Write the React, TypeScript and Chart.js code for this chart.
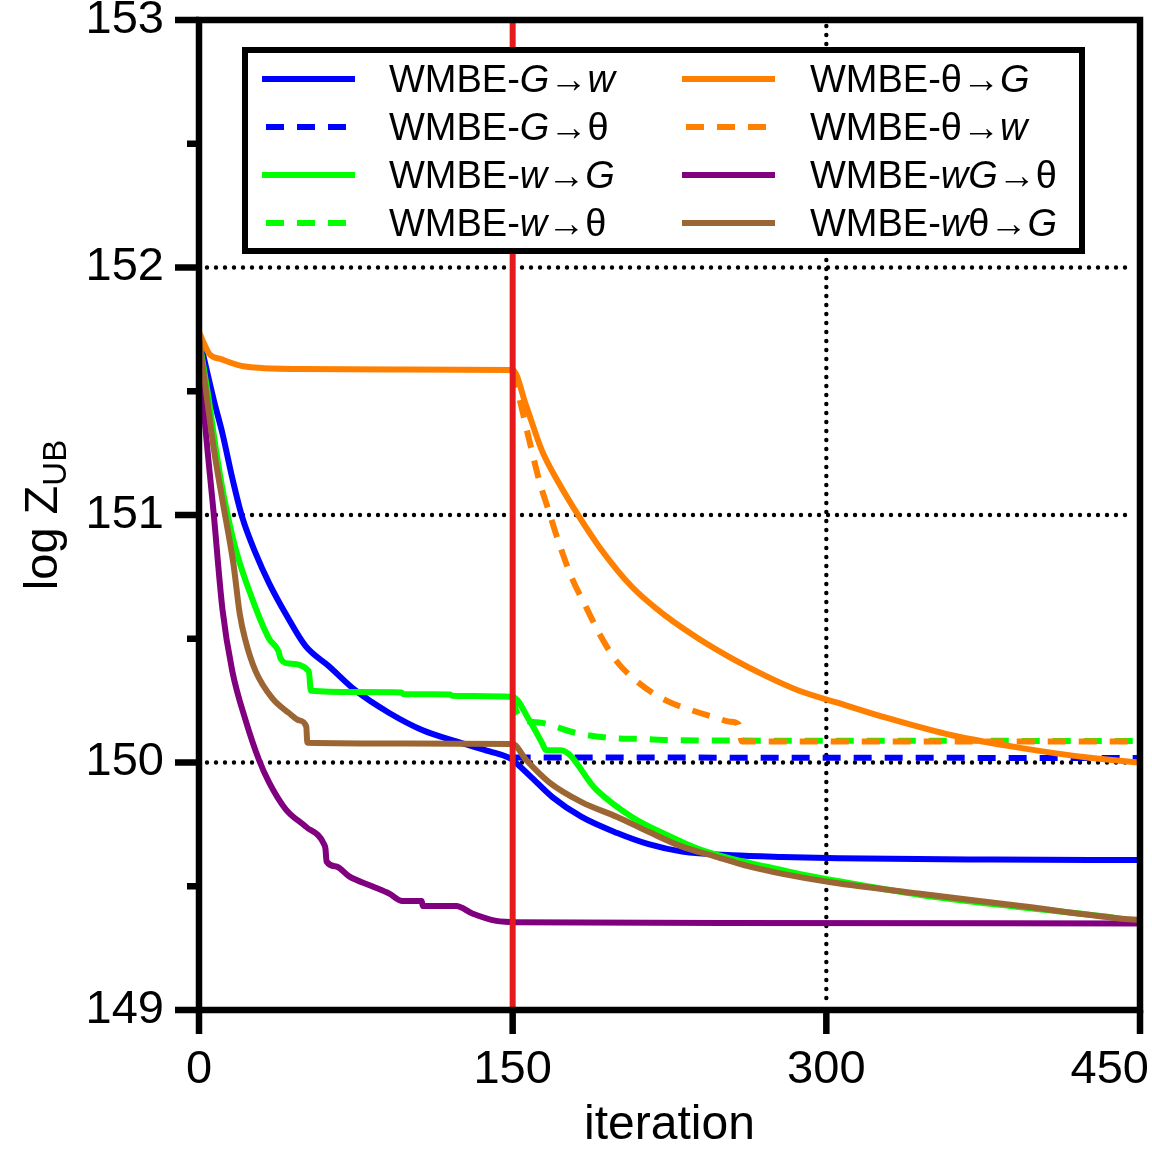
import { useEffect, useRef } from "react";
import { Chart, registerables } from "chart.js";

Chart.register(...registerables);

const FONT = '"Liberation Sans", Arial, Helvetica, sans-serif';

// axes
const xTicks = [0, 150, 300, 450];
const yMinor = [149.5, 150.5, 151.5, 152.5];
const yMajor = [149, 150, 151, 152, 153];
const gridY = [150, 151, 152];
const gridX = [300];
const switchIter = 150;

// WMBE-G→w
const gwX = [0, 7.2, 11.2, 15.9, 20.7, 27.1, 33.5, 41.5, 51, 62, 75, 91, 107, 123, 139, 148, 150, 159, 169, 183, 200, 215, 231, 255, 279, 306, 380, 450];
const gwY = [151.72, 151.46, 151.33, 151.15, 150.99, 150.845, 150.725, 150.6, 150.47, 150.39, 150.29, 150.2, 150.13, 150.085, 150.045, 150.02, 150.01, 149.94, 149.86, 149.78, 149.715, 149.67, 149.64, 149.625, 149.618, 149.613, 149.608, 149.606];

// WMBE-G→θ
const gtX = [150, 160, 450];
const gtY = [150.02, 150.02, 150.018];

// WMBE-w→G
const wgX = [0, 4.8, 8, 12, 17.6, 25.5, 33.5, 38, 39, 43, 52.5, 53.5, 75, 97, 97.5, 120, 121, 150, 158, 164, 166, 173, 190, 207, 223, 239, 255, 271, 287, 306, 345, 393, 440, 450];
const wgY = [151.71, 151.46, 151.27, 151.07, 150.86, 150.66, 150.5, 150.45, 150.42, 150.4, 150.37, 150.29, 150.285, 150.283, 150.277, 150.275, 150.27, 150.265, 150.17, 150.08, 150.05, 150.05, 149.89, 149.78, 149.71, 149.65, 149.61, 149.58, 149.55, 149.52, 149.465, 149.415, 149.37, 149.355];

// WMBE-w→θ
const wtX = [150, 152, 156, 164, 180, 196, 212, 228, 300, 450];
const wtY = [150.265, 150.2, 150.17, 150.16, 150.12, 150.1, 150.095, 150.09, 150.088, 150.087];

// WMBE-θ→G
const tgX = [0, 2, 5, 10.5, 22, 48, 100, 150, 156.5, 164, 172, 182, 191.5, 207, 223.5, 239, 255, 271, 287, 306, 329, 360, 392, 425, 450];
const tgY = [151.74, 151.7, 151.65, 151.63, 151.6, 151.59, 151.588, 151.586, 151.44, 151.26, 151.13, 150.99, 150.87, 150.71, 150.59, 150.5, 150.42, 150.35, 150.29, 150.24, 150.18, 150.11, 150.06, 150.02, 150.0];

// WMBE-θ→w
const twX = [150, 153, 158, 163, 167.5, 172, 178.6, 185, 191.5, 199.6, 210.6, 223.5, 236, 247.5, 254, 258, 259.5, 350, 450];
const twY = [151.586, 151.48, 151.3, 151.13, 151.01, 150.89, 150.74, 150.63, 150.52, 150.41, 150.32, 150.25, 150.21, 150.18, 150.165, 150.155, 150.085, 150.085, 150.085];

// WMBE-wG→θ
const wgtX = [0, 1.6, 7.2, 11.2, 15.9, 22.3, 28.7, 33.5, 41.6, 51.2, 59.8, 60.5, 61, 65.6, 71.8, 82.8, 91, 97.2, 106.5, 107, 123, 130.7, 142.2, 148.4, 150, 250, 450];
const wgtY = [151.71, 151.5, 150.99, 150.62, 150.37, 150.17, 150.01, 149.92, 149.81, 149.74, 149.67, 149.65, 149.6, 149.58, 149.54, 149.5, 149.47, 149.44, 149.44, 149.42, 149.42, 149.39, 149.36, 149.356, 149.355, 149.352, 149.35];

// WMBE-wθ→G
const wtgX = [0, 4, 7.2, 11.2, 16.5, 19.5, 22, 27, 35, 43, 48, 51.3, 51.8, 100, 150, 156.5, 167.5, 183, 200, 215, 231, 247, 263, 279, 303, 345, 393, 440, 450];
const wtgY = [151.71, 151.46, 151.26, 151.06, 150.8, 150.6, 150.5, 150.37, 150.26, 150.2, 150.17, 150.145, 150.08, 150.077, 150.075, 150.01, 149.92, 149.84, 149.78, 149.72, 149.66, 149.62, 149.58, 149.55, 149.515, 149.47, 149.42, 149.37, 149.364];

// labels: text between * is italic
const series = [
  { label: "WMBE-*G*→*w*", color: "#0000ff", dashed: false, xs: gwX, ys: gwY },
  { label: "WMBE-*G*→θ", color: "#0000ff", dashed: true, xs: gtX, ys: gtY },
  { label: "WMBE-*w*→*G*", color: "#00ff00", dashed: false, xs: wgX, ys: wgY },
  { label: "WMBE-*w*→θ", color: "#00ff00", dashed: true, xs: wtX, ys: wtY },
  { label: "WMBE-θ→*G*", color: "#ff8000", dashed: false, xs: tgX, ys: tgY },
  { label: "WMBE-θ→*w*", color: "#ff8000", dashed: true, xs: twX, ys: twY },
  { label: "WMBE-*wG*→θ", color: "#800080", dashed: false, xs: wgtX, ys: wgtY },
  { label: "WMBE-*w*θ→*G*", color: "#9b6633", dashed: false, xs: wtgX, ys: wtgY },
];

const DASH = [18, 13];

function drawRich(ctx: CanvasRenderingContext2D, text: string, x: number, y: number, size: number) {
  let cx = x;
  text.split("*").forEach((part, i) => {
    if (!part) return;
    ctx.font = `${i % 2 ? "italic " : ""}${size}px ${FONT}`;
    ctx.fillText(part, cx, y);
    cx += ctx.measureText(part).width;
  });
}

const framePlugin = {
  id: "frame",
  beforeDatasetsDraw(chart: any) {
    const { ctx, chartArea: a, scales } = chart;
    ctx.save();
    ctx.strokeStyle = "#000";
    ctx.lineWidth = 4.4;
    ctx.lineCap = "round";
    ctx.setLineDash([0, 9]);
    gridY.forEach((v) => {
      const py = scales.y.getPixelForValue(v);
      ctx.beginPath();
      ctx.moveTo(a.left + 8, py);
      ctx.lineTo(a.right - 6, py);
      ctx.stroke();
    });
    gridX.forEach((v) => {
      const px = scales.x.getPixelForValue(v);
      ctx.beginPath();
      ctx.moveTo(px, a.top + 6);
      ctx.lineTo(px, a.bottom - 6);
      ctx.stroke();
    });
    ctx.restore();
  },
  afterDatasetsDraw(chart: any) {
    const { ctx, chartArea: a, scales, width } = chart;
    const x = scales.x;
    const y = scales.y;
    ctx.save();

    // switch line
    const sx = x.getPixelForValue(switchIter);
    ctx.strokeStyle = "#e41a1c";
    ctx.lineWidth = 6;
    ctx.beginPath();
    ctx.moveTo(sx, a.top);
    ctx.lineTo(sx, a.bottom);
    ctx.stroke();

    // frame + ticks
    ctx.strokeStyle = "#000";
    ctx.lineWidth = 6.5;
    ctx.strokeRect(a.left, a.top, a.right - a.left, a.bottom - a.top);
    ctx.beginPath();
    yMajor.forEach((v) => {
      const py = y.getPixelForValue(v);
      ctx.moveTo(a.left - 24, py);
      ctx.lineTo(a.left, py);
    });
    yMinor.forEach((v) => {
      const py = y.getPixelForValue(v);
      ctx.moveTo(a.left - 12, py);
      ctx.lineTo(a.left, py);
    });
    xTicks.forEach((v) => {
      const px = x.getPixelForValue(v);
      ctx.moveTo(px, a.bottom);
      ctx.lineTo(px, a.bottom + 24);
    });
    ctx.stroke();

    // x tick labels (kept inside the canvas)
    ctx.fillStyle = "#000";
    ctx.font = `47px ${FONT}`;
    ctx.textAlign = "center";
    ctx.textBaseline = "alphabetic";
    xTicks.forEach((v) => {
      const w = ctx.measureText(String(v)).width;
      let px = x.getPixelForValue(v);
      if (px + w / 2 > width - 3) px = width - 3 - w / 2;
      ctx.fillText(String(v), px, a.bottom + 73);
    });

    // y title: log Z_UB
    ctx.textAlign = "left";
    ctx.font = `47px ${FONT}`;
    const w1 = ctx.measureText("log Z").width;
    ctx.font = `33px ${FONT}`;
    const w2 = ctx.measureText("UB").width;
    const cy = (a.top + a.bottom) / 2;
    ctx.translate(57, cy + (w1 + w2) / 2);
    ctx.rotate(-Math.PI / 2);
    ctx.font = `47px ${FONT}`;
    ctx.fillText("log Z", 0, 0);
    ctx.font = `33px ${FONT}`;
    ctx.fillText("UB", w1, 9);
    ctx.restore();
  },
  afterDraw(chart: any) {
    const { ctx } = chart;
    ctx.save();
    const box = { x: 245, y: 50, w: 837, h: 201 };
    ctx.fillStyle = "#fff";
    ctx.fillRect(box.x, box.y, box.w, box.h);
    ctx.strokeStyle = "#000";
    ctx.lineWidth = 6;
    ctx.strokeRect(box.x, box.y, box.w, box.h);
    const cols = [
      { x0: 262, x1: 355, tx: 389 },
      { x0: 682, x1: 775, tx: 810 },
    ];
    series.forEach((s, i) => {
      const col = cols[Math.floor(i / 4)];
      const ry = 79 + (i % 4) * 48;
      ctx.strokeStyle = s.color;
      ctx.lineWidth = 6;
      ctx.setLineDash(s.dashed ? DASH : []);
      ctx.beginPath();
      ctx.moveTo(s.dashed ? col.x0 + 4 : col.x0, ry);
      ctx.lineTo(col.x1, ry);
      ctx.stroke();
      ctx.setLineDash([]);
      ctx.fillStyle = "#000";
      ctx.textAlign = "left";
      ctx.textBaseline = "alphabetic";
      drawRich(ctx, s.label, col.tx, ry + 13, 38);
    });
    ctx.restore();
  },
};

export default function App() {
  const chartRef = useRef<HTMLCanvasElement>(null);
  const chartInstance = useRef<Chart | null>(null);

  useEffect(() => {
    if (!chartRef.current) return;
    if (chartInstance.current) chartInstance.current.destroy();

    const fitY = (scale: any) => {
      scale.width = 199;
      scale.paddingTop = 0;
      scale.paddingBottom = 0;
      scale.paddingLeft = 0;
      scale.paddingRight = 0;
    };
    const fitX = (scale: any) => {
      scale.height = 142;
      scale.paddingTop = 0;
      scale.paddingBottom = 0;
      scale.paddingLeft = 0;
      scale.paddingRight = 0;
    };

    chartInstance.current = new Chart(chartRef.current, {
      type: "line",
      data: {
        datasets: series.map((s, i) => ({
          label: s.label.replace(/\*/g, ""),
          data: s.xs.map((x, j) => ({ x, y: s.ys[j] })),
          borderColor: s.color,
          backgroundColor: s.color,
          borderWidth: 6,
          borderDash: s.dashed ? DASH : [],
          pointRadius: 0,
          fill: false,
          cubicInterpolationMode: "monotone" as const,
          order: series.length - i,
        })),
      },
      options: {
        animation: false,
        responsive: false,
        events: [],
        layout: { padding: { top: 20, right: 12, left: 0, bottom: 0 } },
        plugins: {
          legend: { display: false },
          tooltip: { enabled: false },
        },
        scales: {
          x: {
            type: "linear",
            min: 0,
            max: 450,
            grid: { display: false, drawTicks: false },
            border: { display: false },
            ticks: { display: false },
            title: {
              display: true,
              text: "iteration",
              color: "#000",
              font: { family: FONT, size: 48, lineHeight: 1.1 },
              padding: 0,
            },
            afterFit: fitX,
          },
          y: {
            type: "linear",
            min: 149,
            max: 153,
            grid: { display: false, drawTicks: false },
            border: { display: false },
            ticks: {
              stepSize: 1,
              color: "#000",
              padding: 35,
              font: { family: FONT, size: 47 },
            },
            afterFit: fitY,
          },
        },
      },
      plugins: [framePlugin],
    });

    return () => {
      if (chartInstance.current) {
        chartInstance.current.destroy();
        chartInstance.current = null;
      }
    };
  }, []);

  return (
    <div style={{ position: "absolute", left: 0, top: 0, width: 1152, height: 1152, background: "#fff" }}>
      <canvas ref={chartRef} width={1152} height={1152} style={{ display: "block" }}></canvas>
    </div>
  );
}
